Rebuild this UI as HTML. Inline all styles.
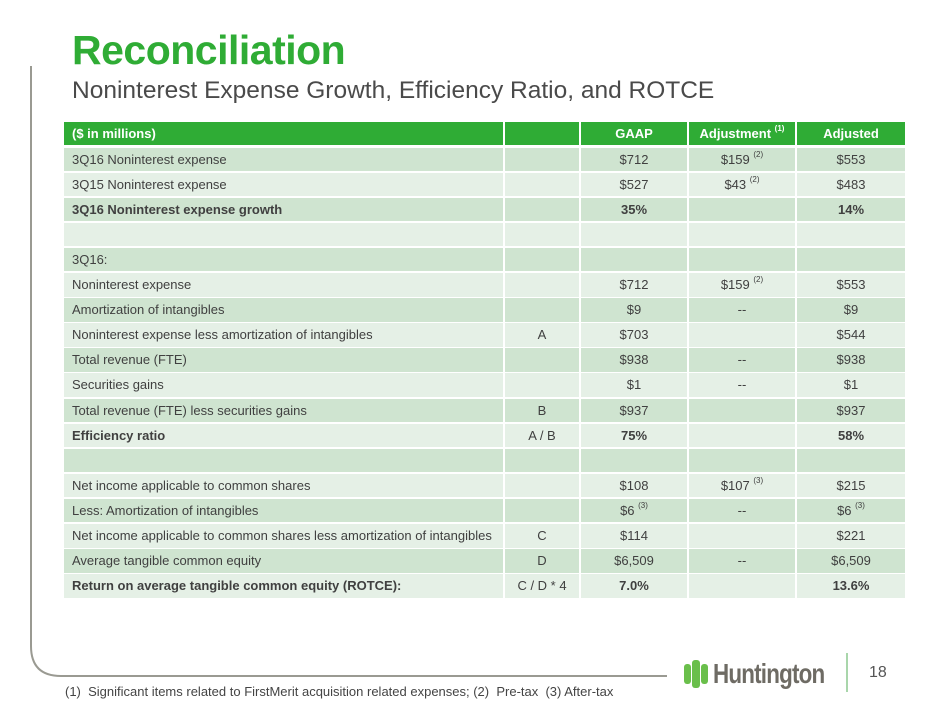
<!DOCTYPE html>
<html><head><meta charset="utf-8"><style>
*{margin:0;padding:0;box-sizing:border-box}
body{width:940px;height:705px;background:#fff;position:relative;overflow:hidden;font-family:"Liberation Sans",Arial,sans-serif}
.t1{position:absolute;left:72px;top:27px;font-size:41px;font-weight:bold;color:#2fac35;letter-spacing:-0.5px}
.t2{position:absolute;left:72px;top:77px;font-size:24.5px;color:#4a4a4a}
.row{position:absolute;left:64px;width:841px;height:23.6px;display:flex;font-size:13px;color:#404040}
.row div{height:100%;line-height:23.6px;margin-right:2px;white-space:nowrap}
.row div:last-child{margin-right:0}
.c1{width:439px;padding-left:8px}
.c2{width:74px;text-align:center}
.c3{width:106px;text-align:center}
.c4{width:106px;text-align:center}
.c5{width:108px;text-align:center}
.h div{background:#2fac35;color:#fff;font-weight:bold}
.d div{background:#cfe4d0}
.l div{background:#e5f0e6}
.b{font-weight:bold}
sup{font-size:8px;vertical-align:top;line-height:0;position:relative;top:7px}
</style></head><body>
<div class="t1">Reconciliation</div>
<div class="t2">Noninterest Expense Growth, Efficiency Ratio, and ROTCE</div>

<div class="row h" style="top:121.5px"><div class="c1">($ in millions)</div><div class="c2"></div><div class="c3">GAAP</div><div class="c4">Adjustment <sup>(1)</sup></div><div class="c5">Adjusted</div></div>
<div class="row d" style="top:147.5px"><div class="c1">3Q16 Noninterest expense</div><div class="c2"></div><div class="c3">$712</div><div class="c4">$159 <sup>(2)</sup></div><div class="c5">$553</div></div>
<div class="row l" style="top:172.6px"><div class="c1">3Q15 Noninterest expense</div><div class="c2"></div><div class="c3">$527</div><div class="c4">$43 <sup>(2)</sup></div><div class="c5">$483</div></div>
<div class="row d b" style="top:197.7px"><div class="c1">3Q16 Noninterest expense growth</div><div class="c2"></div><div class="c3">35%</div><div class="c4"></div><div class="c5">14%</div></div>
<div class="row l" style="top:222.8px"><div class="c1"></div><div class="c2"></div><div class="c3"></div><div class="c4"></div><div class="c5"></div></div>
<div class="row d" style="top:247.9px"><div class="c1">3Q16:</div><div class="c2"></div><div class="c3"></div><div class="c4"></div><div class="c5"></div></div>
<div class="row l" style="top:273px"><div class="c1">Noninterest expense</div><div class="c2"></div><div class="c3">$712</div><div class="c4">$159 <sup>(2)</sup></div><div class="c5">$553</div></div>
<div class="row d" style="top:298.1px"><div class="c1">Amortization of intangibles</div><div class="c2"></div><div class="c3">$9</div><div class="c4">--</div><div class="c5">$9</div></div>
<div class="row l" style="top:323.2px"><div class="c1">Noninterest expense less amortization of intangibles</div><div class="c2">A</div><div class="c3">$703</div><div class="c4"></div><div class="c5">$544</div></div>
<div class="row d" style="top:348.3px"><div class="c1">Total revenue (FTE)</div><div class="c2"></div><div class="c3">$938</div><div class="c4">--</div><div class="c5">$938</div></div>
<div class="row l" style="top:373.4px"><div class="c1">Securities gains</div><div class="c2"></div><div class="c3">$1</div><div class="c4">--</div><div class="c5">$1</div></div>
<div class="row d" style="top:398.5px"><div class="c1">Total revenue (FTE) less securities gains</div><div class="c2">B</div><div class="c3">$937</div><div class="c4"></div><div class="c5">$937</div></div>
<div class="row l" style="top:423.6px"><div class="c1 b">Efficiency ratio</div><div class="c2">A / B</div><div class="c3 b">75%</div><div class="c4"></div><div class="c5 b">58%</div></div>
<div class="row d" style="top:448.7px"><div class="c1"></div><div class="c2"></div><div class="c3"></div><div class="c4"></div><div class="c5"></div></div>
<div class="row l" style="top:473.8px"><div class="c1">Net income applicable to common shares</div><div class="c2"></div><div class="c3">$108</div><div class="c4">$107 <sup>(3)</sup></div><div class="c5">$215</div></div>
<div class="row d" style="top:498.9px"><div class="c1">Less: Amortization of intangibles</div><div class="c2"></div><div class="c3">$6 <sup>(3)</sup></div><div class="c4">--</div><div class="c5">$6 <sup>(3)</sup></div></div>
<div class="row l" style="top:524px"><div class="c1">Net income applicable to common shares less amortization of intangibles</div><div class="c2">C</div><div class="c3">$114</div><div class="c4"></div><div class="c5">$221</div></div>
<div class="row d" style="top:549.1px"><div class="c1">Average tangible common equity</div><div class="c2">D</div><div class="c3">$6,509</div><div class="c4">--</div><div class="c5">$6,509</div></div>
<div class="row l" style="top:574.2px"><div class="c1 b">Return on average tangible common equity (ROTCE):</div><div class="c2">C / D * 4</div><div class="c3 b">7.0%</div><div class="c4"></div><div class="c5 b">13.6%</div></div>

<svg style="position:absolute;left:0;top:0" width="940" height="705">
<path d="M31 66 V646 Q31 676 61 676 H667" fill="none" stroke="#9a9a92" stroke-width="2"/>
<line x1="847" y1="653" x2="847" y2="692" stroke="#8cc98f" stroke-width="1.5"/>
<g fill="#6abf4b"><rect x="684" y="664" width="7" height="20" rx="3"/><rect x="692" y="660" width="8" height="28" rx="3"/><rect x="701" y="664" width="7" height="20" rx="3"/></g>
</svg>
<div style="position:absolute;left:713px;top:658px;font-size:28px;font-weight:bold;color:#6e6b64;letter-spacing:-1px;transform:scaleX(0.8);transform-origin:left">Huntington</div>
<div style="position:absolute;left:869px;top:664px;font-size:16px;color:#555">18</div>
<div style="position:absolute;left:65px;top:684px;font-size:13px;color:#444">(1)&nbsp; Significant items related to FirstMerit acquisition related expenses; (2)&nbsp; Pre-tax&nbsp; (3) After-tax</div>
</body></html>
